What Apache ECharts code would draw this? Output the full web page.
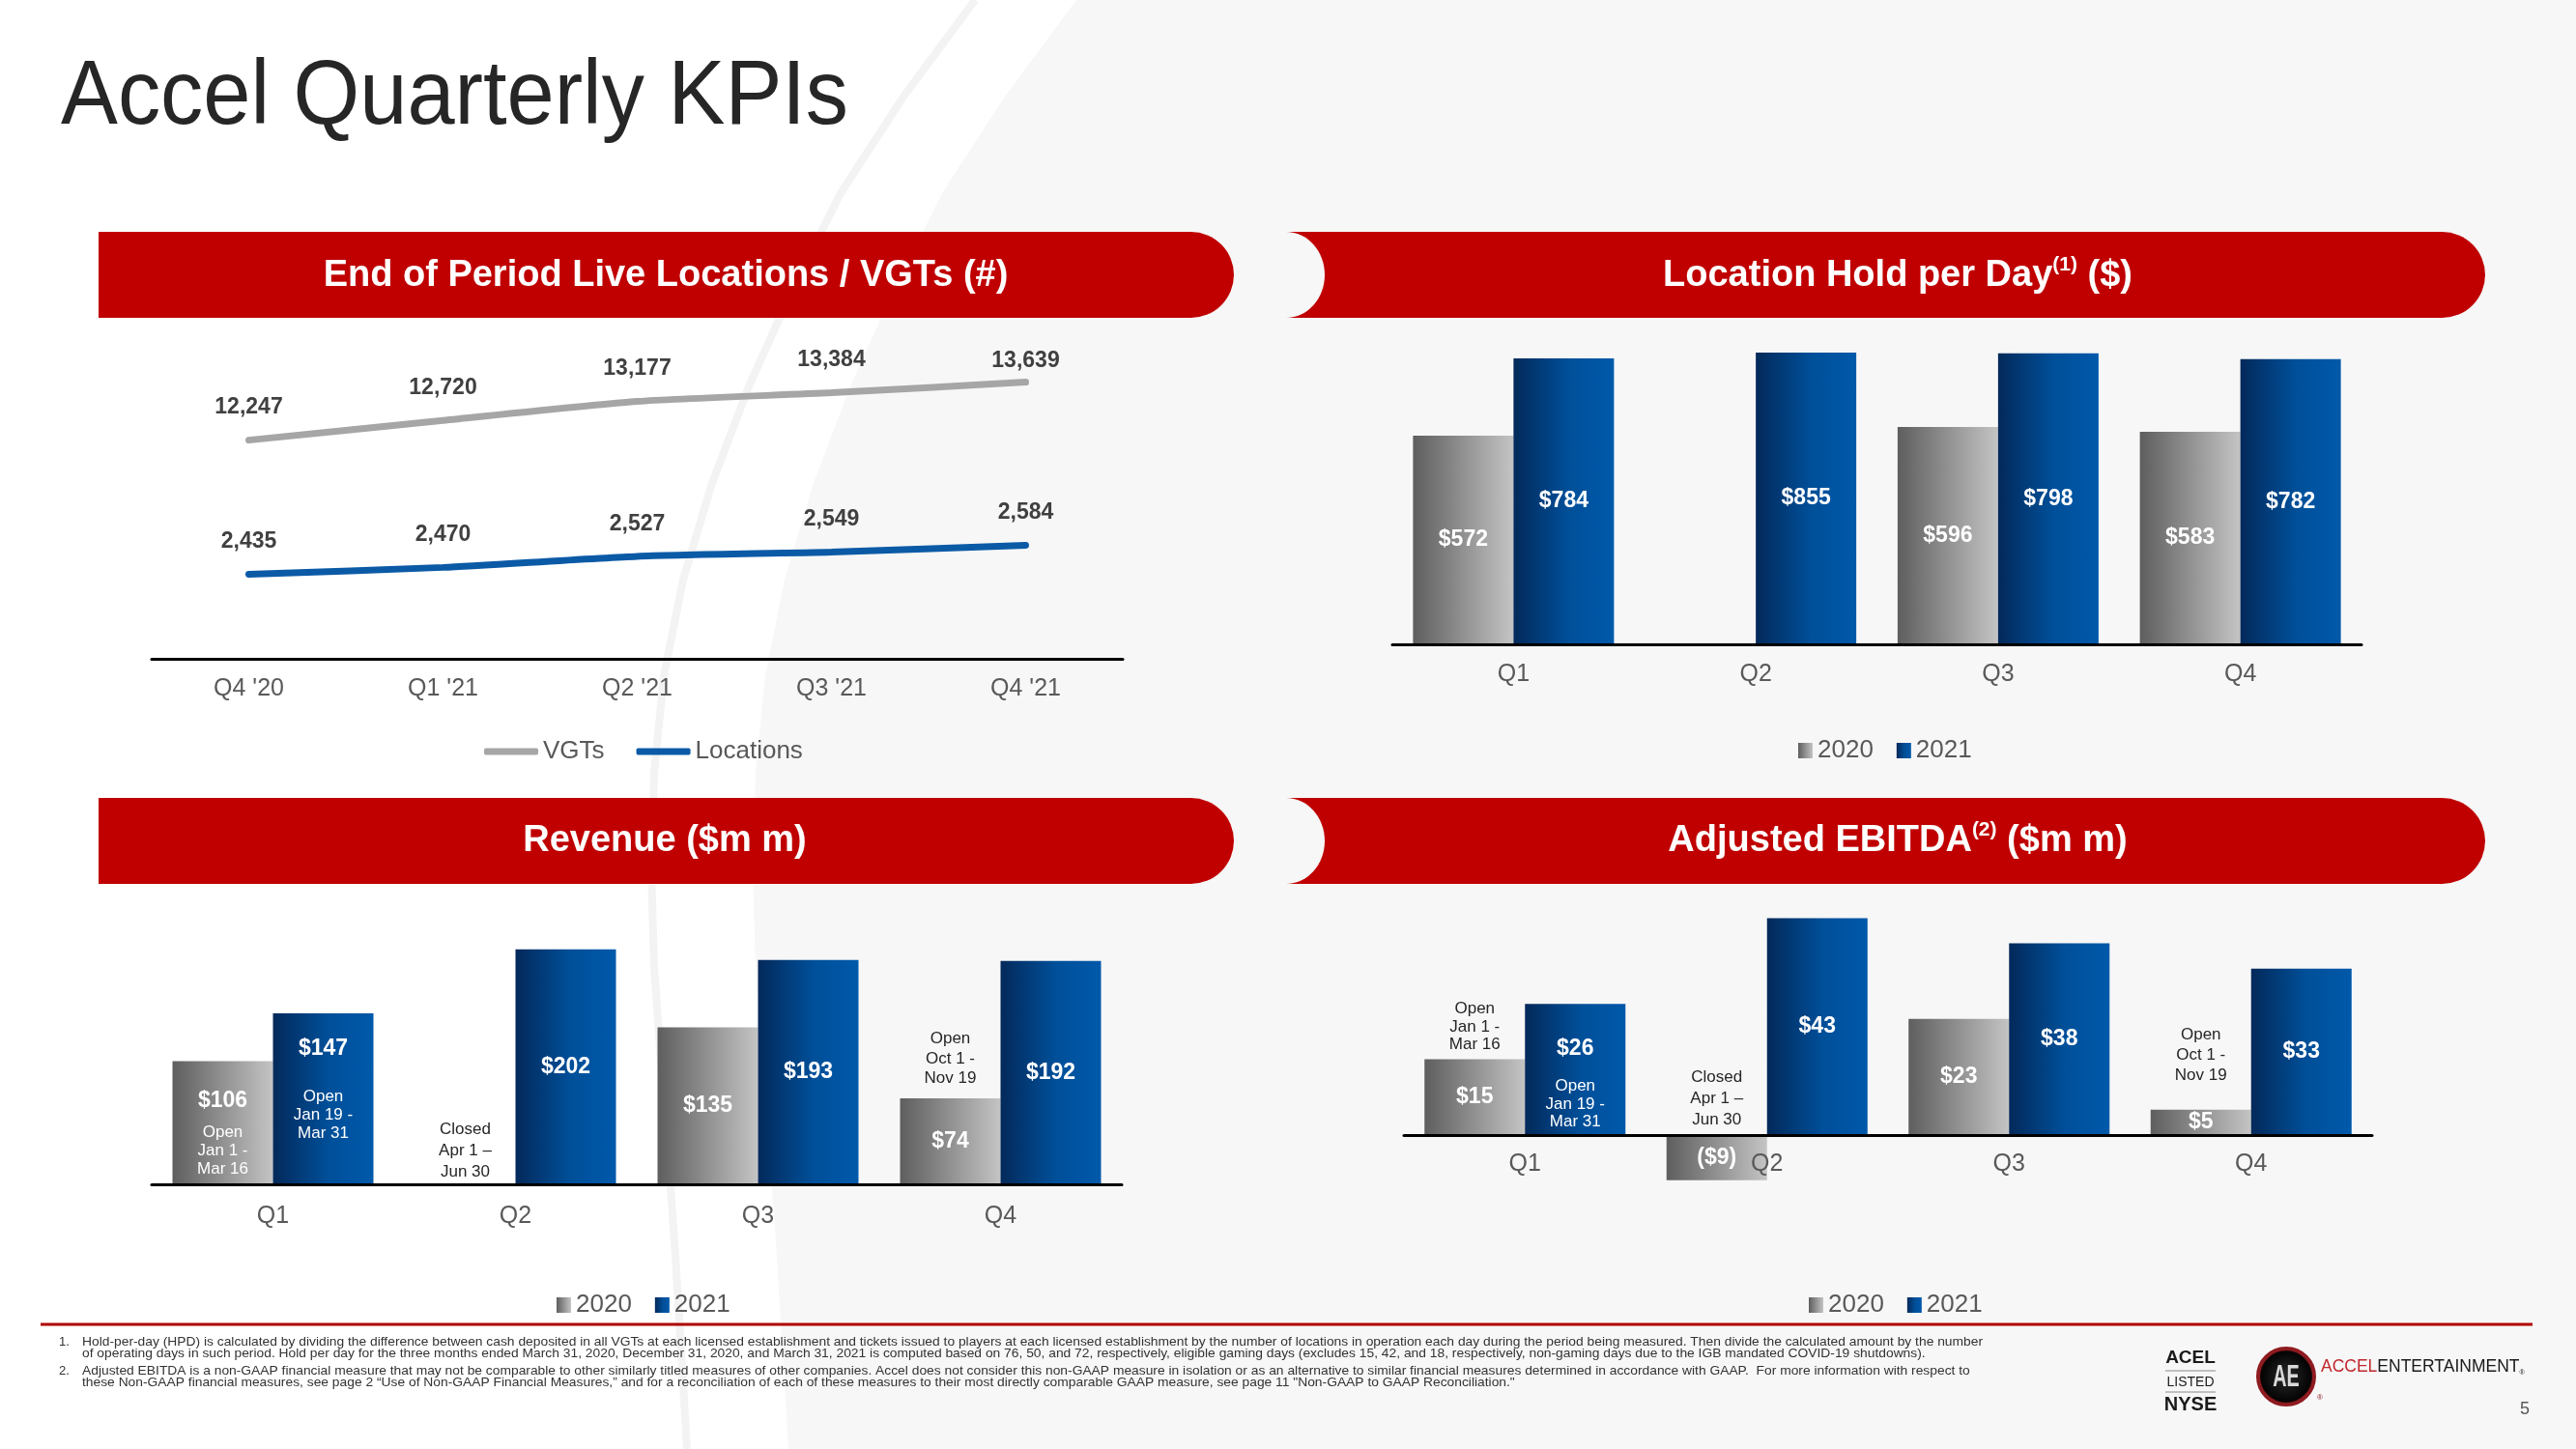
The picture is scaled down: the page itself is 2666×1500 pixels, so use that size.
<!DOCTYPE html>
<html>
<head>
<meta charset="utf-8">
<script src="https://cdn.jsdelivr.net/npm/echarts@6/dist/echarts.min.js"></script>
<style>
html,body{margin:0;padding:0;background:#f7f7f7;overflow:hidden}
#c{width:2666px;height:1500px}
</style>
</head>
<body>
<div id="c"></div>
<script>
// ---------------- data ----------------
const lineCategories = ["Q4 '20", "Q1 '21", "Q2 '21", "Q3 '21", "Q4 '21"];
const vgts = [12247, 12720, 13177, 13384, 13639];
const locations = [2435, 2470, 2527, 2549, 2584];

const quarters = ['Q1', 'Q2', 'Q3', 'Q4'];
const hold2020 = [572, null, 596, 583];
const hold2021 = [784, 855, 798, 782];
const revenue2020 = [106, null, 135, 74];
const revenue2021 = [147, 202, 193, 192];
const ebitda2020 = [15, -9, 23, 5];
const ebitda2021 = [26, 43, 38, 33];

const revenueNotes2020 = ['Open\nJan 1 -\nMar 16', 'Closed\nApr 1 \u2013\nJun 30', '', 'Open\nOct 1 -\nNov 19'];
const revenueNotes2021 = ['Open\nJan 19 -\nMar 31', '', '', ''];
const ebitdaNotes2020 = ['Open\nJan 1 -\nMar 16', 'Closed\nApr 1 \u2013\nJun 30', '', 'Open\nOct 1 -\nNov 19'];
const ebitdaNotes2021 = ['Open\nJan 19 -\nMar 31', '', '', ''];

const seriesYears = ['2020', '2021'];
const lineNames = ['VGTs', 'Locations'];

const pageTitle = 'Accel Quarterly KPIs';
const panelTitles = ['End of Period Live Locations / VGTs (#)', 'Location Hold per Day', 'Revenue ($m m)', 'Adjusted EBITDA'];
const footnotes = [
  ['1.', 'Hold-per-day (HPD) is calculated by dividing the difference between cash deposited in all VGTs at each licensed establishment and tickets issued to players at each licensed establishment by the number of locations in operation each day during the period being measured. Then divide the calculated amount by the number',
         'of operating days in such period. Hold per day for the three months ended March 31, 2020, December 31, 2020, and March 31, 2021 is computed based on 76, 50, and 72, respectively, eligible gaming days (excludes 15, 42, and 18, respectively, non-gaming days due to the IGB mandated COVID-19 shutdowns).'],
  ['2.', 'Adjusted EBITDA is a non-GAAP financial measure that may not be comparable to other similarly titled measures of other companies. Accel does not consider this non-GAAP measure in isolation or as an alternative to similar financial measures determined in accordance with GAAP.  For more information with respect to',
         'these Non-GAAP financial measures, see page 2 \u201cUse of Non-GAAP Financial Measures,\u201d and for a reconciliation of each of these measures to their most directly comparable GAAP measure, see page 11 "Non-GAAP to GAAP Reconciliation."']
];

// ---------------- styles ----------------
const FONT = 'Liberation Sans, Arial, Helvetica, sans-serif';
const RED = '#C00000';
const BG = '#f7f7f7';
const DARK = '#262626';
const AXISGRAY = '#595959';
const grayGrad = new echarts.graphic.LinearGradient(0, 0, 1, 0, [
  {offset: 0, color: '#5e5e5e'}, {offset: 1, color: '#c4c4c4'}]);
const blueGrad = new echarts.graphic.LinearGradient(0, 0, 1, 0, [
  {offset: 0, color: '#03295a'}, {offset: 0.55, color: '#004f99'}, {offset: 1, color: '#0059aa'}]);
const BAR_W = 104;

// grid boxes (layout)
const grids = [
  {left: 157, top: 380, width: 1005, height: 302},
  {left: 1441, top: 365, width: 1003, height: 302},
  {left: 157, top: 925, width: 1004, height: 301},
  {left: 1453, top: 914, width: 1002, height: 313}
];
const ebitdaRange = [-10, 50];
// move the EBITDA category axis up to the zero line
const ebitdaAxisOffset = -((0 - ebitdaRange[0]) / (ebitdaRange[1] - ebitdaRange[0])) * grids[3].height;

const money = v => (v < 0 ? '($' + (-v) + ')' : '$' + v);
const valueLabel = {
  show: true, position: 'inside', color: '#fff', fontSize: 23, fontWeight: 'bold',
  fontFamily: FONT, formatter: p => money(p.value)
};

function catAxis(gridIndex, data, margin, offset) {
  return {
    type: 'category', gridIndex, data, z: 3, offset: offset || 0,
    axisLine: {show: true, onZero: false, lineStyle: {color: '#000', width: 3}},
    axisTick: {show: false},
    splitLine: {show: false},
    axisLabel: {color: AXISGRAY, fontSize: 25, fontFamily: FONT, margin}
  };
}
function hiddenCatAxis(gridIndex, data) {
  return {type: 'category', gridIndex, data, show: false};
}
function valAxis(gridIndex, min, max) {
  return {type: 'value', gridIndex, min, max, show: false, splitLine: {show: false}};
}

function valueData(values, overrides) {
  return values.map((v, i) => {
    const item = {value: v};
    if (overrides && overrides[i]) item.label = overrides[i];
    return item;
  });
}

function noteSeries(name, xAxisIndex, yAxisIndex, values, notes, cfgs, isLast) {
  const s = {
    type: 'bar', name, xAxisIndex, yAxisIndex, barWidth: BAR_W, silent: true, z: 4,
    itemStyle: {color: 'rgba(0,0,0,0)'},
    data: values.map((v, i) => {
      const anchor = v == null ? 0 : Math.max(v, 0);
      if (!notes[i]) return {value: anchor, label: {show: false}};
      const c = cfgs[i];
      return {
        value: anchor,
        label: {
          show: true, formatter: notes[i], position: c.position, distance: c.distance,
          color: c.color, fontSize: 17, fontFamily: FONT, lineHeight: c.lh, align: 'center'
        }
      };
    })
  };
  if (isLast) s.barGap = '0%';
  return s;
}

// background stripe edge
const stripeR = [[1114,0],[1040,100],[975,200],[925,300],[880,400],[842,500],[812,600],[792,700],[782,800],[779,900],[782,1000],[789,1100],[797,1200],[804,1300],[810,1400],[816,1500]];
const whiteRegion = [[0,0]].concat(stripeR).concat([[0,1500]]);
const sliver = stripeR.map(p => [p[0] - 105, p[1]]);

function bannerEls(x, y, w, h, cut) {
  const els = [{type: 'rect', z: 1, shape: {x, y, width: w, height: h, r: [0, h / 2, h / 2, 0]}, style: {fill: RED}}];
  if (cut) els.push({type: 'ellipse', z: 1, shape: {cx: x, cy: y + h / 2, rx: 40, ry: h / 2}, style: {fill: BG}});
  return els;
}
function bannerText(cx, cy, text) {
  return {type: 'text', z: 2, x: cx, y: cy, style: {
    text, fill: '#fff', fontSize: 38, fontWeight: 'bold', fontFamily: FONT,
    align: 'center', verticalAlign: 'middle', textAlign: 'center', textVerticalAlign: 'middle'}};
}
function bannerRichText(cx, cy, main, sup, tail) {
  const t = {fill: '#fff', color: '#fff', fontSize: 38, fontWeight: 'bold', fontFamily: FONT, lineHeight: 44};
  const s = {fill: '#fff', color: '#fff', fontSize: 21, fontWeight: 'bold', fontFamily: FONT, lineHeight: 26, verticalAlign: 'top'};
  return {type: 'text', z: 2, x: cx, y: cy, style: {
    text: '{t|' + main + '}{s|' + sup + '}{t|' + tail + '}',
    rich: {t, s}, align: 'center', verticalAlign: 'middle', textAlign: 'center', textVerticalAlign: 'middle'}};
}
function plainText(x, y, text, size, color, weight, align, extra) {
  return Object.assign({type: 'text', z: 2, x, y, style: {
    text, fill: color, fontSize: size, fontWeight: weight || 'normal', fontFamily: FONT,
    align: align || 'left', verticalAlign: 'middle', textAlign: align || 'left', textVerticalAlign: 'middle'}}, extra || {});
}
const FN = 13, FN_SX = 1.063;

const graphicEls = [
  {type: 'polygon', z: 0, silent: true, shape: {points: whiteRegion}, style: {fill: '#ffffff'}},
  {type: 'polyline', z: 0, silent: true, shape: {points: sliver}, style: {stroke: '#f3f3f3', lineWidth: 8, fill: null}},
  plainText(63, 102, pageTitle, 95, DARK, 'normal', 'left', {scaleX: 0.93}),
  ...bannerEls(102, 240, 1175, 89, false),
  ...bannerEls(1331, 240, 1241, 89, true),
  ...bannerEls(102, 826, 1175, 89, false),
  ...bannerEls(1331, 826, 1241, 89, true),
  bannerText(689, 286, panelTitles[0]),
  bannerRichText(1964, 286, panelTitles[1], '(1)', ' ($)'),
  bannerText(688, 871, panelTitles[2]),
  bannerRichText(1964, 871, panelTitles[3], '(2)', ' ($m m)'),
  {type: 'line', z: 1, shape: {x1: 42, y1: 1371, x2: 2621, y2: 1371}, style: {stroke: '#B00000', lineWidth: 3}},
  plainText(61, 1389, footnotes[0][0], FN, '#333'),
  plainText(85, 1389, footnotes[0][1], FN, '#333', 'normal', 'left', {scaleX: FN_SX}),
  plainText(85, 1401, footnotes[0][2], FN, '#333', 'normal', 'left', {scaleX: FN_SX}),
  plainText(61, 1419, footnotes[1][0], FN, '#333'),
  plainText(85, 1419, footnotes[1][1], FN, '#333', 'normal', 'left', {scaleX: FN_SX}),
  plainText(85, 1431, footnotes[1][2], FN, '#333', 'normal', 'left', {scaleX: FN_SX}),
  // exchange badge
  plainText(2267, 1406, 'ACEL', 19, '#1a1a1a', 'bold', 'center'),
  {type: 'line', z: 1, shape: {x1: 2241, y1: 1419, x2: 2293, y2: 1419}, style: {stroke: '#888', lineWidth: 1}},
  plainText(2267, 1431, 'LISTED', 14, '#1a1a1a', 'normal', 'center'),
  {type: 'line', z: 1, shape: {x1: 2241, y1: 1441, x2: 2293, y2: 1441}, style: {stroke: '#888', lineWidth: 1}},
  plainText(2267, 1454, 'NYSE', 20, '#1a1a1a', 'bold', 'center'),
  // company logo
  {type: 'circle', z: 1, shape: {cx: 2366, cy: 1425, r: 29}, style: {
    fill: new echarts.graphic.RadialGradient(0.5, 0.5, 0.5, [{offset: 0, color: '#2a2a2a'}, {offset: 0.8, color: '#050505'}, {offset: 1, color: '#3a0a0a'}]),
    stroke: '#8e1b20', lineWidth: 4}},
  plainText(2366, 1426, 'AE', 32, '#d9d9d9', 'bold', 'center', {z: 3, scaleX: 0.62}),
  plainText(2398, 1447, '\u00ae', 8, '#8e1b20', 'normal', 'left'),
  {type: 'text', z: 2, x: 2402, y: 1415, style: {
    text: '{r|ACCEL}{k|ENTERTAINMENT}{m|\u00ae}', align: 'left', verticalAlign: 'middle', textAlign: 'left', textVerticalAlign: 'middle',
    rich: {
      r: {fill: '#c1272d', color: '#c1272d', fontSize: 17.5, fontFamily: FONT, lineHeight: 20},
      k: {fill: '#1a1a1a', color: '#1a1a1a', fontSize: 17.5, fontFamily: FONT, lineHeight: 20},
      m: {fill: '#1a1a1a', color: '#1a1a1a', fontSize: 7, fontFamily: FONT, lineHeight: 20, verticalAlign: 'bottom'}
    }}},
  plainText(2613, 1459, '5', 18, AXISGRAY, 'normal', 'center')
];

// ---------------- option ----------------
const lineLabel = {
  show: true, position: 'top', distance: 21, fontSize: 23, fontWeight: 'bold', color: '#404040',
  fontFamily: FONT, formatter: p => Number(p.value).toLocaleString('en-US')
};
const legendText = {color: AXISGRAY, fontSize: 26, fontFamily: FONT};

const option = {
  backgroundColor: BG,
  animation: false,
  textStyle: {fontFamily: FONT},
  grid: grids.map(g => Object.assign({containLabel: false, outerBoundsMode: 'none'}, g)),
  xAxis: [
    catAxis(0, lineCategories, 19),
    catAxis(1, quarters, 19),
    catAxis(2, quarters, 21),
    hiddenCatAxis(2, quarters),
    catAxis(3, quarters, 18, ebitdaAxisOffset),
    hiddenCatAxis(3, quarters)
  ],
  yAxis: [
    valAxis(0, 7000, 14000),
    valAxis(0, 2000, 3500),
    valAxis(1, 0, 800),
    valAxis(2, 0, 250),
    valAxis(3, ebitdaRange[0], ebitdaRange[1])
  ],
  legend: [
    {data: lineNames, left: 496, top: 760, orient: 'horizontal', icon: 'roundRect', itemWidth: 56, itemHeight: 7,
     itemGap: 33, selectedMode: false, textStyle: legendText},
    {data: seriesYears, left: 1856, top: 759, orient: 'horizontal', icon: 'rect', itemWidth: 15, itemHeight: 16,
     itemGap: 24, selectedMode: false, textStyle: legendText},
    {data: seriesYears, left: 571, top: 1333, orient: 'horizontal', icon: 'rect', itemWidth: 15, itemHeight: 16,
     itemGap: 24, selectedMode: false, textStyle: legendText},
    {data: seriesYears, left: 1867, top: 1333, orient: 'horizontal', icon: 'rect', itemWidth: 15, itemHeight: 16,
     itemGap: 24, selectedMode: false, textStyle: legendText}
  ],
  graphic: {elements: graphicEls},
  series: [
    // live locations / VGTs
    {type: 'line', name: lineNames[0], xAxisIndex: 0, yAxisIndex: 0, color: '#A6A6A6',
     data: valueData(vgts, [null, null, null, null, {distance: 9}]),
     smooth: 0.2, symbol: 'circle', symbolSize: 2, lineStyle: {width: 7, cap: 'round', color: '#A6A6A6'},
     itemStyle: {color: '#A6A6A6'}, label: lineLabel},
    {type: 'line', name: lineNames[1], xAxisIndex: 0, yAxisIndex: 1, color: '#0B5AA6',
     data: locations, smooth: 0.2, symbol: 'circle', symbolSize: 2,
     lineStyle: {width: 7, cap: 'round', color: '#0B5AA6'}, itemStyle: {color: '#0B5AA6'}, label: lineLabel},
    // location hold per day
    {type: 'bar', name: seriesYears[0], xAxisIndex: 1, yAxisIndex: 2, data: hold2020, barWidth: BAR_W,
     itemStyle: {color: grayGrad}, label: valueLabel},
    {type: 'bar', name: seriesYears[1], xAxisIndex: 1, yAxisIndex: 2, data: hold2021, barWidth: BAR_W, barGap: '0%',
     itemStyle: {color: blueGrad}, label: valueLabel},
    // revenue
    {type: 'bar', name: seriesYears[0], xAxisIndex: 2, yAxisIndex: 3, barWidth: BAR_W,
     data: valueData(revenue2020, [{position: 'insideTop', distance: 30}]),
     itemStyle: {color: grayGrad}, label: valueLabel},
    {type: 'bar', name: seriesYears[1], xAxisIndex: 2, yAxisIndex: 3, barWidth: BAR_W, barGap: '0%',
     data: valueData(revenue2021, [{position: 'insideTop', distance: 25}]),
     itemStyle: {color: blueGrad}, label: valueLabel},
    noteSeries('notes2020r', 3, 3, revenue2020, revenueNotes2020, [
      {position: 'insideBottom', distance: 6, color: '#fff', lh: 19},
      {position: 'top', distance: 2, color: DARK, lh: 22},
      null,
      {position: 'top', distance: 10, color: DARK, lh: 20.5}], false),
    noteSeries('notes2021r', 3, 3, revenue2021, revenueNotes2021, [
      {position: 'insideBottom', distance: 43, color: '#fff', lh: 19}], true),
    // adjusted EBITDA
    {type: 'bar', name: seriesYears[0], xAxisIndex: 4, yAxisIndex: 4, barWidth: BAR_W,
     data: ebitda2020, itemStyle: {color: grayGrad}, label: valueLabel},
    {type: 'bar', name: seriesYears[1], xAxisIndex: 4, yAxisIndex: 4, barWidth: BAR_W, barGap: '0%',
     data: valueData(ebitda2021, [{position: 'insideTop', distance: 35}]),
     itemStyle: {color: blueGrad}, label: valueLabel},
    noteSeries('notes2020e', 5, 4, ebitda2020, ebitdaNotes2020, [
      {position: 'top', distance: 6, color: DARK, lh: 18.5},
      {position: 'top', distance: 5, color: DARK, lh: 22},
      null,
      {position: 'top', distance: 25, color: DARK, lh: 21}], false),
    noteSeries('notes2021e', 5, 4, ebitda2021, ebitdaNotes2021, [
      {position: 'insideBottom', distance: 4, color: '#fff', lh: 18.5}], true)
  ]
};

const chart = echarts.init(document.getElementById('c'), null, {renderer: 'canvas', width: 2666, height: 1500});
chart.setOption(option);
</script>
</body>
</html>
